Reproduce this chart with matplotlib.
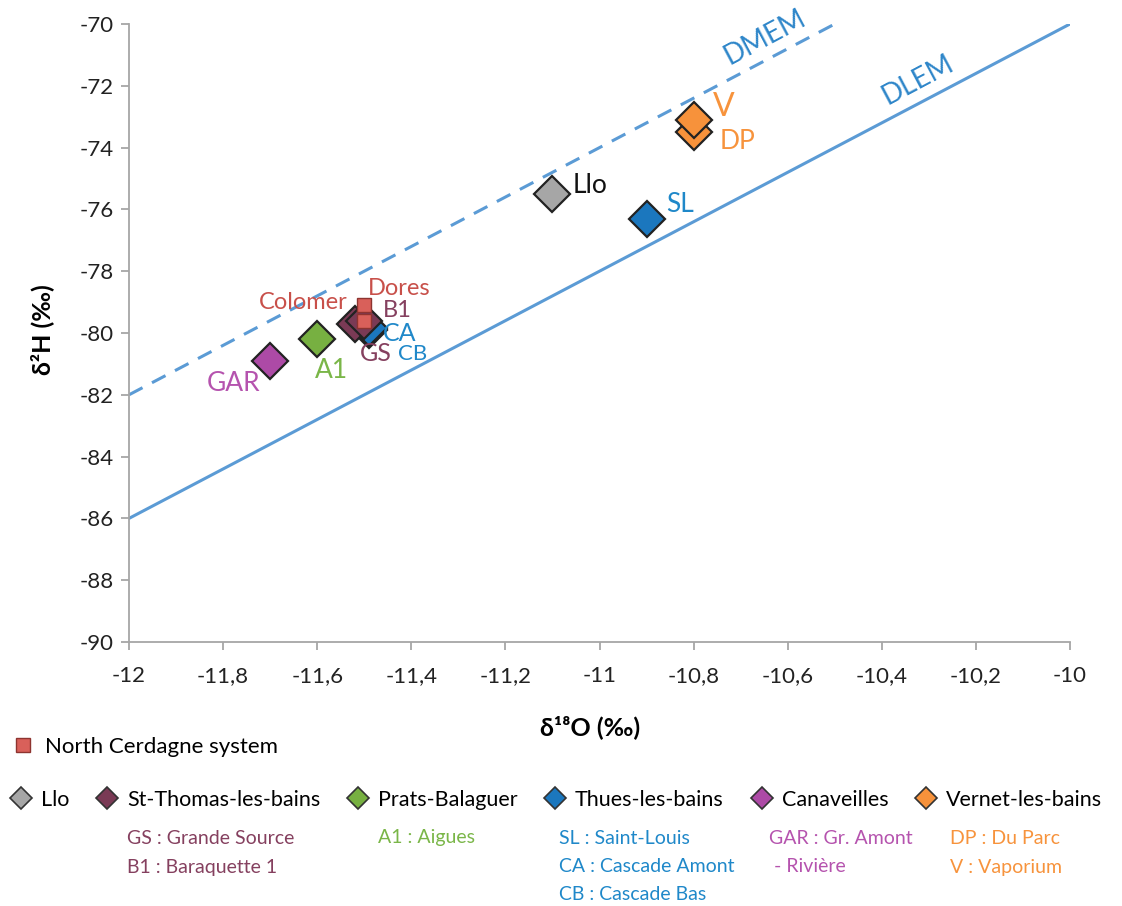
import matplotlib
matplotlib.use("Agg")
import matplotlib.pyplot as plt
from matplotlib.lines import Line2D
from matplotlib.ticker import FuncFormatter, MultipleLocator

plt.rcParams['font.family'] = ['Lato', 'DejaVu Sans']

# meteoric water lines (d18O, d2H)
dlem_x = [-12, -10]
dlem_y = [-86, -70]
dmem_x = [-12, -10.5]
dmem_y = [-82, -70]

# springs by system
llo_lab = ['Llo']
llo_o = [-11.1]
llo_h = [-75.5]

sttho_lab = ['GS', 'B1']
sttho_o = [-11.52, -11.5]
sttho_h = [-79.7, -79.6]

prats_lab = ['A1']
prats_o = [-11.6]
prats_h = [-80.2]

thues_lab = ['CB', 'CA', 'SL']
thues_o = [-11.49, -11.49, -10.9]
thues_h = [-79.9, -79.85, -76.3]

canav_lab = ['GAR']
canav_o = [-11.7]
canav_h = [-80.9]

vernet_lab = ['DP', 'V']
vernet_o = [-10.8, -10.8]
vernet_h = [-73.5, -73.1]

ncs_lab = ['Dores', 'Colomer']
ncs_o = [-11.5, -11.5]
ncs_h = [-79.1, -79.6]

systems = ['Llo', 'St-Thomas-les-bains', 'Prats-Balaguer', 'Thues-les-bains',
           'Canaveilles', 'Vernet-les-bains']
sys_colors = ['#A6A6A6', '#7A3A55', '#77B041', '#1B77BE', '#AD4AA6', '#F7923B']
txt_colors = ['#111111', '#85405F', '#7AB648', '#1F88C9', '#B553AE', '#F7933C']
sub_labels = [[], ['GS : Grande Source', 'B1 : Baraquette 1'], ['A1 : Aigues'],
              ['SL : Saint-Louis', 'CA : Cascade Amont', 'CB : Cascade Bas'],
              ['GAR : Gr. Amont', ' - Rivière'], ['DP : Du Parc', 'V : Vaporium']]

ncs_color = '#D9605A'
ncs_txt = '#C8504A'
line_color = '#5B9BD5'
line_txt = '#2E86C9'

# label offsets in pixels from each point: (dx, dy, ha, size)
offsets = {
    'Llo': (20, 8, 'left', 19), 'SL': (20, 14, 'left', 19),
    'V': (19, 13, 'left', 23), 'DP': (26, -9, 'left', 19),
    'GAR': (-10, -23, 'right', 19), 'A1': (-2, -31, 'left', 19),
    'Dores': (35, 17, 'center', 17), 'Colomer': (-17, 18, 'right', 17),
    'B1': (19, 10, 'left', 17), 'GS': (5, -30, 'left', 18),
    'CA': (14, -5, 'left', 18), 'CB': (29, -24, 'left', 16),
}

fig = plt.figure(figsize=(11.22, 9.06), dpi=100)
ax = fig.add_axes([129/1122, 1-642/906, 941/1122, 618/906])

ax.plot(dlem_x, dlem_y, color=line_color, lw=2.2, zorder=1)
ax.plot(dmem_x, dmem_y, color=line_color, lw=2.2, ls=(0, (5, 3.5)), zorder=1)

groups = [
    (thues_lab, thues_o, thues_h, 3),
    (llo_lab, llo_o, llo_h, 0),
    (prats_lab, prats_o, prats_h, 2),
    (canav_lab, canav_o, canav_h, 4),
    (vernet_lab, vernet_o, vernet_h, 5),
    (sttho_lab, sttho_o, sttho_h, 1),
]
for labs, xs, ys, k in groups:
    ax.plot(xs, ys, marker='D', ls='none', ms=18, mfc=sys_colors[k],
            mec='#222222', mew=1.6, zorder=3)
    for lab, x, y in zip(labs, xs, ys):
        dx, dy, ha, fs = offsets[lab]
        ax.annotate(lab, (x, y), xytext=(dx, dy), textcoords='offset pixels',
                    ha=ha, va='center', fontsize=fs, color=txt_colors[k], zorder=5)

ax.plot(ncs_o, ncs_h, marker='s', ls='none', ms=9.5, mfc=ncs_color,
        mec='#8E3430', mew=1.0, zorder=4)
for lab, x, y in zip(ncs_lab, ncs_o, ncs_h):
    dx, dy, ha, fs = offsets[lab]
    ax.annotate(lab, (x, y), xytext=(dx, dy), textcoords='offset pixels',
                ha=ha, va='center', fontsize=fs, color=ncs_txt, zorder=5)

ax.text(-10.648, -70.42, 'DMEM', rotation=28, ha='center', va='center',
        fontsize=20, color=line_txt, rotation_mode='anchor')
ax.text(-10.323, -71.81, 'DLEM', rotation=28, ha='center', va='center',
        fontsize=20, color=line_txt, rotation_mode='anchor')

ax.set_xlim(-12, -10)
ax.set_ylim(-90, -70)
ax.xaxis.set_major_locator(MultipleLocator(0.2))
ax.yaxis.set_major_locator(MultipleLocator(2))
fmt = FuncFormatter(lambda v, p: f"{v:g}".replace('.', ',').replace('\u2212', '-'))
ax.xaxis.set_major_formatter(fmt)
ax.yaxis.set_major_formatter(fmt)
for s in ['top', 'right']:
    ax.spines[s].set_visible(False)
for s in ['left', 'bottom']:
    ax.spines[s].set_color('#A6A6A6')
    ax.spines[s].set_linewidth(1.3)
ax.tick_params(axis='both', direction='out', length=6, width=1.3, color='#A6A6A6',
               labelsize=16, labelcolor='#222222')
ax.tick_params(axis='x', pad=11)
ax.tick_params(axis='y', pad=5)

fig.text(590/1122, 1-727/906, 'δ¹⁸O (‰)', ha='center', va='center',
         fontsize=18, fontweight='bold')
fig.text(42/1122, 1-330/906, 'δ²H (‰)', ha='center', va='center',
         fontsize=18, fontweight='bold', rotation=90)

# legend rows
h1 = [Line2D([], [], marker='s', ls='none', ms=10, mfc=ncs_color, mec='#8E3430', mew=1.0)]
fig.legend(h1, ['North Cerdagne system'], loc='center left',
           bbox_to_anchor=(12/1122, 1-747/906), frameon=False, fontsize=16,
           handlelength=1.0, handletextpad=0.5, borderpad=0, borderaxespad=0)

h2 = [Line2D([], [], marker='D', ls='none', ms=11, mfc=c, mec='#333333', mew=1.2)
      for c in sys_colors]
leg = fig.legend(h2, systems, loc='center left', bbox_to_anchor=(10/1122, 1-800/906),
                 ncol=6, frameon=False, fontsize=15.5, handlelength=1.0,
                 handletextpad=0.43, columnspacing=1.25, borderpad=0, borderaxespad=0)

fig.canvas.draw()
sub_dx = [0, 0, 0, -16, -13, 4]
sub_y = [838, 867, 895]
for i, txt in enumerate(leg.get_texts()):
    x0 = txt.get_window_extent().x0
    for j, s in enumerate(sub_labels[i]):
        fig.text((x0 + sub_dx[i]) / 1122, 1 - sub_y[j]/906, s, ha='left', va='center',
                 fontsize=14, color=txt_colors[i])

fig.savefig('out.png', dpi=100)
